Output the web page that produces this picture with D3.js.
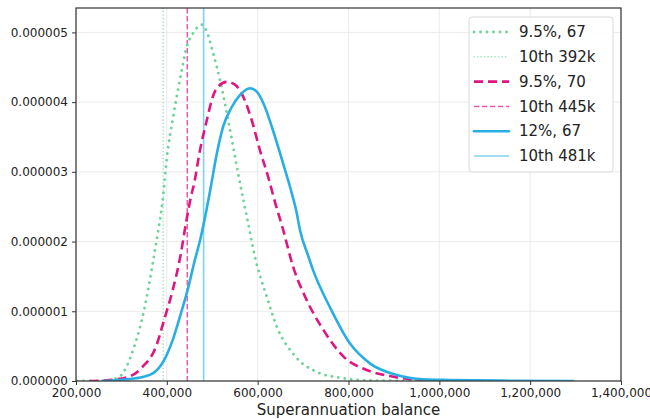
<!DOCTYPE html>
<html>
<head>
<meta charset="utf-8">
<script src="https://cdn.jsdelivr.net/npm/d3@7"></script>
<style>
  html, body { margin: 0; padding: 0; background: #fff; }
  svg { display: block; font-family: "DejaVu Sans", sans-serif; }
</style>
</head>
<body>
<div id="chart"></div>
<script>
// Superannuation balance density curves
// balance in dollars, density per dollar

const xTicks = [200000, 400000, 600000, 800000, 1000000, 1200000, 1400000];
const yTicks = [0, 0.000001, 0.000002, 0.000003, 0.000004, 0.000005];

// 9.5%, 67
const balance95at67 = [202000, 259000, 295000, 328000, 350000, 369000, 380000, 391000, 400000, 414000, 433000, 444000, 458000, 477000, 488000, 502000, 517000, 535000, 550000, 561000, 576000, 594000, 620000, 642000, 678000, 730000, 788000, 832000, 900000, 980000];
const density95at67 = [0, 0, 0.06, 0.49, 1.02, 1.69, 2.12, 2.6, 3.2, 3.79, 4.46, 4.8, 4.99, 5.11, 5.01, 4.7, 4.32, 3.74, 3.22, 2.84, 2.36, 1.78, 1.21, 0.78, 0.39, 0.13, 0.04, 0.01, 0.003, 0];

// 9.5%, 70
const balance95at70 = [230000, 273000, 317000, 347000, 376000, 394000, 413000, 431000, 442000, 453000, 460000, 473000, 488000, 499000, 510000, 532000, 550000, 568000, 587000, 605000, 623000, 638000, 656000, 678000, 708000, 745000, 789000, 840000, 899000, 965000];
const density95at70 = [0, 0.014, 0.062, 0.205, 0.49, 0.875, 1.305, 1.83, 2.26, 2.64, 2.83, 3.31, 3.74, 4.03, 4.2, 4.29, 4.25, 4.08, 3.74, 3.31, 2.93, 2.57, 2.17, 1.64, 1.16, 0.73, 0.35, 0.158, 0.062, 0.014];

// 12%, 67
const balance12at67 = [259000, 332000, 369000, 394000, 413000, 431000, 446000, 460000, 475000, 486000, 497000, 510000, 524000, 543000, 561000, 583000, 598000, 616000, 631000, 656000, 671000, 686000, 693000, 711000, 722000, 759000, 803000, 847000, 906000, 965000, 1023000, 1134000, 1294000];
const density12at67 = [0, 0.039, 0.11, 0.3, 0.59, 0.97, 1.31, 1.69, 2.07, 2.41, 2.79, 3.26, 3.65, 3.93, 4.1, 4.2, 4.15, 3.93, 3.65, 3.12, 2.79, 2.41, 2.17, 1.8, 1.59, 1.06, 0.54, 0.253, 0.086, 0.024, 0.014, 0.005, 0];

// 10th percentile markers
const percentile10 = [392000, 445000, 481000];

const seriesNames = ["9.5%, 67", "9.5%, 70", "12%, 67"];
const markerNames = ["10th 392k", "10th 445k", "10th 481k"];

const W = 650, H = 419;
const margin = { top: 8, right: 29, bottom: 38, left: 76 };

const svg = d3.select('#chart').append('svg')
  .attr('width', W)
  .attr('height', H);

const x = d3.scaleLinear().domain([200000, 1400000]).range([margin.left, W - margin.right]);
const y = d3.scaleLinear().domain([0, 0.00000535]).range([H - margin.bottom, margin.top]);

const fmtX = d3.format(',');
const fmtY = d => d.toFixed(6);

// grid
const grid = svg.append('g').attr('stroke', '#e6e6e6').attr('stroke-width', 0.8);
grid.selectAll('line.gx').data(xTicks).join('line')
  .attr('x1', d => x(d)).attr('x2', d => x(d))
  .attr('y1', y.range()[1]).attr('y2', y.range()[0]);
grid.selectAll('line.gy').data(yTicks).join('line')
  .attr('x1', x.range()[0]).attr('x2', x.range()[1])
  .attr('y1', d => y(d)).attr('y2', d => y(d));

// styles per series
const styles = [
  { color: '#6dd398', width: 2.8, dash: '0.1,6.4', cap: 'round' },
  { color: '#e0157f', width: 2.6, dash: '9,5', cap: 'butt' },
  { color: '#29aee3', width: 2.6, dash: null, cap: 'round' }
];
const markerStyles = [
  { color: '#9ee0b9', width: 1.6, dash: '0.1,3.4', cap: 'round' },
  { color: '#ef5aa8', width: 1.5, dash: '5.5,2.5', cap: 'butt' },
  { color: '#80d2f2', width: 1.6, dash: null, cap: 'butt' }
];

const series = [
  d3.zip(balance95at67, density95at67.map(v => v * 1e-6)),
  d3.zip(balance95at70, density95at70.map(v => v * 1e-6)),
  d3.zip(balance12at67, density12at67.map(v => v * 1e-6))
];

const clipId = 'plot-clip';
svg.append('defs').append('clipPath').attr('id', clipId)
  .append('rect')
  .attr('x', x.range()[0]).attr('y', y.range()[1])
  .attr('width', x.range()[1] - x.range()[0])
  .attr('height', y.range()[0] - y.range()[1]);

const plot = svg.append('g').attr('clip-path', `url(#${clipId})`);

// vertical percentile lines
plot.selectAll('line.marker').data(percentile10).join('line')
  .attr('class', 'marker')
  .attr('x1', d => x(d)).attr('x2', d => x(d))
  .attr('y1', y.range()[1]).attr('y2', y.range()[0])
  .attr('stroke', (d, i) => markerStyles[i].color)
  .attr('stroke-width', (d, i) => markerStyles[i].width)
  .attr('stroke-dasharray', (d, i) => markerStyles[i].dash)
  .attr('stroke-linecap', (d, i) => markerStyles[i].cap);

const line = d3.line()
  .x(d => x(d[0]))
  .y(d => y(d[1]))
  .curve(d3.curveMonotoneX);

plot.selectAll('path.curve').data(series).join('path')
  .attr('class', 'curve')
  .attr('d', line)
  .attr('fill', 'none')
  .attr('stroke', (d, i) => styles[i].color)
  .attr('stroke-width', (d, i) => styles[i].width)
  .attr('stroke-dasharray', (d, i) => styles[i].dash)
  .attr('stroke-linecap', (d, i) => styles[i].cap)
  .attr('stroke-linejoin', 'round');

// axes
const xAxis = svg.append('g')
  .attr('transform', `translate(0,${y.range()[0]})`)
  .call(d3.axisBottom(x).tickValues(xTicks).tickFormat(fmtX).tickSize(4).tickPadding(3));
const yAxis = svg.append('g')
  .attr('transform', `translate(${x.range()[0]},0)`)
  .call(d3.axisLeft(y).tickValues(yTicks).tickFormat(fmtY).tickSize(4).tickPadding(4));

[xAxis, yAxis].forEach(a => {
  a.select('.domain').remove();
  a.selectAll('.tick line').attr('stroke', '#333').attr('stroke-width', 1);
  a.selectAll('.tick text').attr('fill', '#222').style('font-size', '12px')
    .style('font-family', '"DejaVu Sans", sans-serif');
});

// frame
svg.append('rect')
  .attr('x', x.range()[0]).attr('y', y.range()[1])
  .attr('width', x.range()[1] - x.range()[0])
  .attr('height', y.range()[0] - y.range()[1])
  .attr('fill', 'none')
  .attr('stroke', '#333')
  .attr('stroke-width', 1.2);

// x label
svg.append('text')
  .attr('x', (x.range()[0] + x.range()[1]) / 2)
  .attr('y', 415)
  .attr('text-anchor', 'middle')
  .attr('fill', '#222')
  .style('font-size', '15px')
  .text('Superannuation balance');

// legend
const legendItems = [];
seriesNames.forEach((n, i) => {
  legendItems.push({ name: n, style: styles[i] });
  legendItems.push({ name: markerNames[i], style: markerStyles[i] });
});

const lg = svg.append('g').attr('transform', 'translate(469,17)');
lg.append('rect')
  .attr('width', 144).attr('height', 155)
  .attr('rx', 3)
  .attr('fill', '#fff')
  .attr('fill-opacity', 0.85)
  .attr('stroke', '#d9d9d9');

const rows = lg.selectAll('g.row').data(legendItems).join('g')
  .attr('class', 'row')
  .attr('transform', (d, i) => `translate(0,${15 + i * 24.8})`);
rows.append('line')
  .attr('x1', 5).attr('x2', 40)
  .attr('stroke', d => d.style.color)
  .attr('stroke-width', d => d.style.width)
  .attr('stroke-dasharray', d => d.style.dash)
  .attr('stroke-linecap', d => d.style.cap || 'butt');
rows.append('text')
  .attr('x', 50)
  .attr('dy', '0.35em')
  .attr('fill', '#222')
  .style('font-size', '15px')
  .text(d => d.name);
</script>
</body>
</html>
